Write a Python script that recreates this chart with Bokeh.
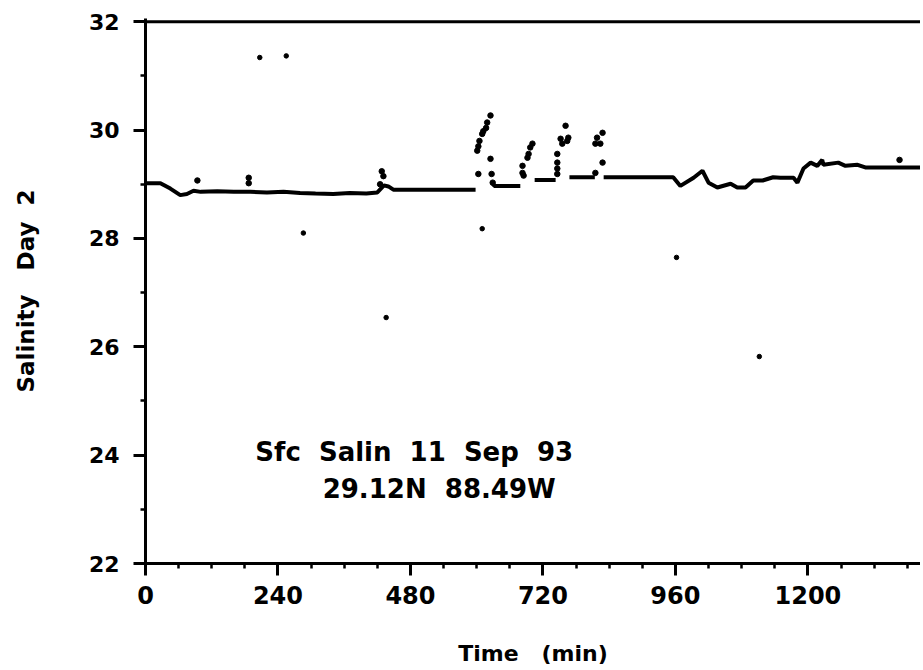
import math
from bokeh.plotting import figure
from bokeh.models import Range1d, FixedTicker, Span, Label
from bokeh.embed import file_html
from bokeh.resources import INLINE

nan = math.nan
NB = "\u00a0"

# continuous salinity trace (NaN = gap)
line_t = [0, 27, 45, 63, 75, 87, 100, 130, 160, 190, 220, 250, 280, 308, 340, 370, 400, 420, 432, 440, 449, 520, 598,
          nan, 628, 632, 679,
          nan, 705, 743,
          nan, 768, 814,
          nan, 830, 956, 969, 993, 1009, 1020, 1036, 1060, 1072, 1087, 1101, 1118, 1137, 1150, 1174, 1181,
          1192, 1205, 1217, 1226, 1228, 1255, 1268, 1290, 1304, 1420]
line_s = [29.02, 29.02, 28.92, 28.80, 28.82, 28.88, 28.86, 28.87, 28.86, 28.86, 28.85, 28.86, 28.84, 28.83, 28.82,
          28.84, 28.83, 28.85, 28.98, 28.96, 28.90, 28.90, 28.90,
          nan, 29.03, 28.97, 28.97,
          nan, 29.08, 29.08,
          nan, 29.13, 29.13,
          nan, 29.13, 29.13, 28.97, 29.12, 29.25, 29.03, 28.94, 29.01, 28.94, 28.94, 29.07, 29.07, 29.13, 29.12,
          29.12, 29.03, 29.29, 29.40, 29.34, 29.45, 29.36, 29.40, 29.34, 29.36, 29.31, 29.31]

# individual samples in the spikes
spike_t = [94, 187, 187, 425, 428, 431, 603, 601, 603, 605, 610, 612, 617, 619, 625, 625, 627, 629,
           683, 683, 685, 692, 694, 697, 701, 746, 746, 746, 746, 752, 755, 761, 764, 766,
           815, 815, 818, 824, 828, 828, 1366]
spike_s = [29.07, 29.12, 29.02, 29.00, 29.24, 29.15, 29.19, 29.62, 29.70, 29.80, 29.93, 29.98, 30.04, 30.14,
           30.27, 29.47, 29.19, 29.03, 29.34, 29.21, 29.16, 29.49, 29.56, 29.68, 29.75, 29.56, 29.40, 29.29,
           29.19, 29.84, 29.75, 30.08, 29.80, 29.86, 29.75, 29.21, 29.86, 29.75, 29.95, 29.40, 29.45]

# isolated outliers
out_t = [207, 255, 286, 436, 610, 962, 1112]
out_s = [31.34, 31.37, 28.10, 26.54, 28.18, 27.65, 25.82]

x_ticks = [0, 240, 480, 720, 960, 1200, 1440]
x_minor = list(range(0, 1441, 60))
y_ticks = [22, 24, 26, 28, 30, 32]
y_minor = list(range(22, 33))

FONT = "DejaVu Sans"

p = figure(width=920, height=670, output_backend="svg", toolbar_location=None,
           x_range=Range1d(0, 1404), y_range=Range1d(22, 32.06),
           min_border_left=145, min_border_right=0, min_border_top=18, min_border_bottom=107)
p.background_fill_color = "white"
p.border_fill_color = "white"
p.outline_line_color = None
p.xgrid.grid_line_color = None
p.ygrid.grid_line_color = None

for ax in (p.xaxis[0], p.yaxis[0]):
    ax.axis_line_width = 3
    ax.axis_line_color = "black"
    ax.major_tick_in = 0
    ax.major_tick_out = 12
    ax.minor_tick_in = 0
    ax.minor_tick_out = 5
    ax.major_tick_line_width = 3
    ax.minor_tick_line_width = 2.5
    ax.major_label_text_font = FONT
    ax.major_label_text_font_style = "bold"
    ax.major_label_text_color = "black"
    ax.axis_label_text_font = FONT
    ax.axis_label_text_font_style = "bold"
    ax.axis_label_text_color = "black"
    ax.axis_label_text_font_size = "22px"

p.xaxis.ticker = FixedTicker(ticks=x_ticks, minor_ticks=x_minor)
p.yaxis.ticker = FixedTicker(ticks=y_ticks, minor_ticks=y_minor)
p.xaxis.major_label_text_font_size = "24px"
p.yaxis.major_label_text_font_size = "22px"
p.xaxis.major_label_standoff = 10
p.yaxis.major_label_standoff = 14
p.xaxis.axis_label = "Time" + NB * 3 + "(min)"
p.yaxis.axis_label = "Salinity" + NB * 3 + "Day" + NB * 2 + "2"
p.yaxis.axis_label_text_font_size = "23px"
p.xaxis.axis_label_standoff = 34
p.yaxis.axis_label_standoff = 47

p.add_layout(Span(location=32, dimension="width", line_color="black", line_width=3))

p.line(line_t, line_s, line_color="black", line_width=4)
p.scatter(spike_t, spike_s, size=5.5, color="black")
p.scatter(out_t, out_s, size=4.5, color="black")

p.add_layout(Label(x=199, y=24.05, text=NB.join(["Sfc", "", "Salin", "", "11", "", "Sep", "", "93"]),
                   text_font=FONT, text_font_style="bold", text_font_size="26px", text_color="black",
                   text_baseline="alphabetic"))
p.add_layout(Label(x=321, y=23.38, text="29.12N" + NB * 2 + "88.49W", text_font=FONT,
                   text_font_style="bold", text_font_size="26px", text_color="black",
                   text_baseline="alphabetic"))

open("out.html", "w").write(file_html(p, INLINE))
